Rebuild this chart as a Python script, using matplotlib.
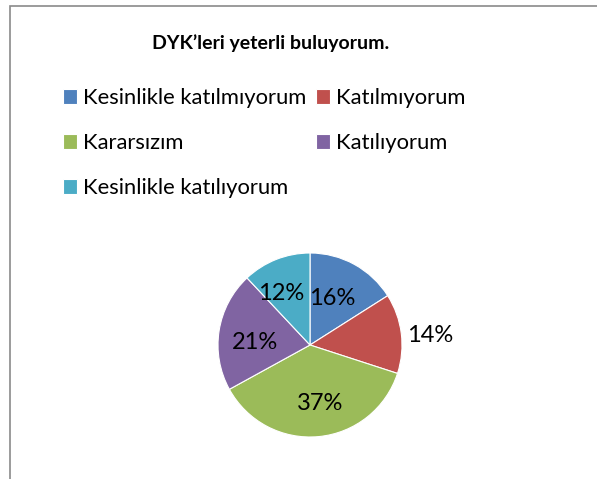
import matplotlib
matplotlib.use('Agg')
import matplotlib.pyplot as plt
import matplotlib.patches as mpatches
import numpy as np

title = 'DYK’leri yeterli buluyorum.'
categories = ['Kesinlikle katılmıyorum', 'Katılmıyorum', 'Kararsızım',
              'Katılıyorum', 'Kesinlikle katılıyorum']
values = [16, 14, 37, 21, 12]
colors = ['#4F81BD', '#C0504D', '#9BBB59', '#8064A2', '#4BACC6']

# label distance from centre (in radii) and nudge (px) for each slice
label_dist = [0.64, 1.31, 0.65, 0.62, 0.64]
label_nudge = [(-6, -5), (1, -6), (4, 1), (1, -6), (-7, -3)]

W, H = 597, 479
plt.rcParams['font.family'] = ['Lato', 'DejaVu Sans']
fig = plt.figure(figsize=(W / 100, H / 100), dpi=100)

# outer chart frame (cut off at right and bottom)
fig.patches.append(mpatches.Rectangle((9.5 / W, -0.1), 1.2, 1.1 - 6 / H,
                                      transform=fig.transFigure, fill=False,
                                      edgecolor='#8a8a8a', lw=1.2))

fig.text(271 / W, 1 - 43 / H, title, ha='center', va='center',
         fontsize=14, fontweight='bold')

# pie axes: centre (310, 345) px, radius 92 px
cx, cy, r = 310, 345, 92
ax = fig.add_axes([(cx - r) / W, 1 - (cy + r) / H, 2 * r / W, 2 * r / H])
wedges, _ = ax.pie(values, colors=colors, startangle=90, counterclock=False,
                   wedgeprops=dict(edgecolor='white', linewidth=0.8))
ax.set_xlim(-1, 1)
ax.set_ylim(-1, 1)
ax.axis('off')

for w, v, d, (nx, ny) in zip(wedges, values, label_dist, label_nudge):
    ang = np.deg2rad((w.theta1 + w.theta2) / 2)
    ax.text(d * np.cos(ang) + nx / r, d * np.sin(ang) + ny / r, f'{v}%',
            ha='center', va='center', fontsize=17)

order = [0, 2, 4, 1, 3]
leg = fig.legend([wedges[i] for i in order], [categories[i] for i in order],
                 ncol=2, loc='upper left', bbox_to_anchor=(63 / W, 1 - 88 / H),
                 frameon=False, fontsize=15.8, handlelength=0.64, handleheight=0.64,
                 handletextpad=0.27, columnspacing=0.46, labelspacing=1.14,
                 borderpad=0, borderaxespad=0)

fig.savefig('out.png', dpi=100)
